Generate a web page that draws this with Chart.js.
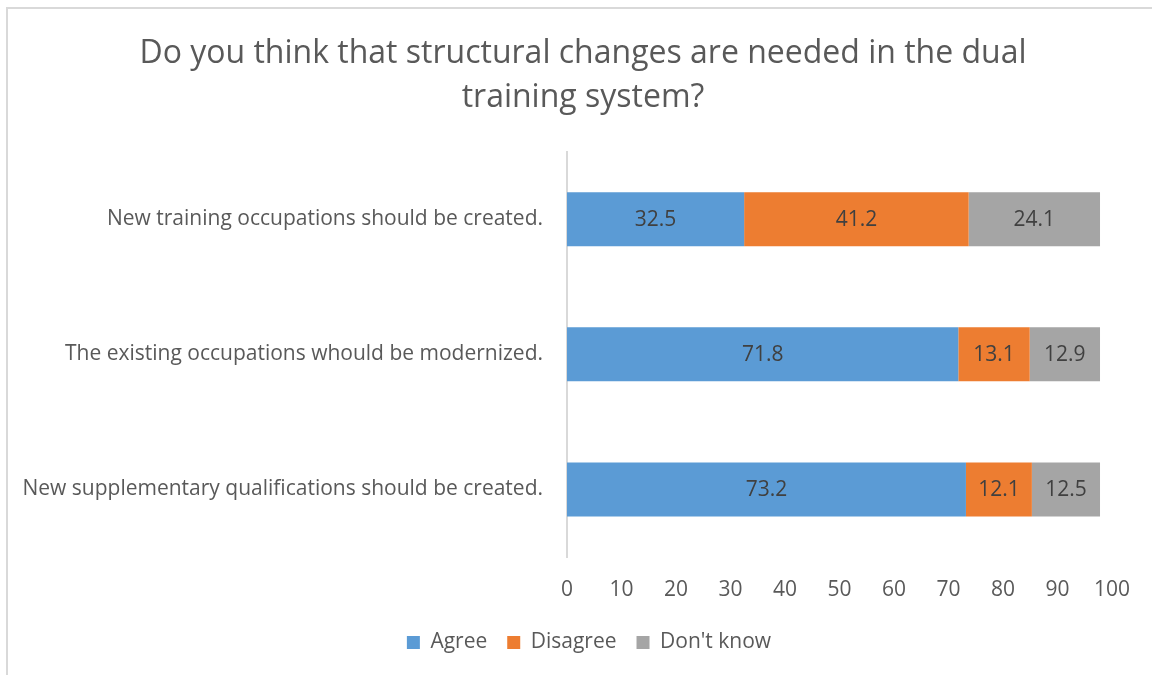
<!DOCTYPE html>
<html>
<head>
<meta charset="utf-8">
<script src="https://cdn.jsdelivr.net/npm/chart.js@4.4.1/dist/chart.umd.min.js"></script>
<style>
  html, body { margin: 0; padding: 0; background: #fff; }
  #wrap { position: relative; width: 1152px; height: 675px; overflow: hidden; }
  #frame { position: absolute; left: 6px; top: 7px; width: 1200px; height: 720px; border-left: 2px solid #d9d9d9; border-top: 2px solid #d9d9d9; }
  canvas { position: absolute; left: 0; top: 0; }
</style>
</head>
<body>
<div id="wrap">
  <div id="frame"></div>
  <canvas id="c" width="1152" height="675"></canvas>
</div>
<script>
const categories = [
  "New training occupations should be created.",
  "The existing occupations whould be modernized.",
  "New supplementary qualifications should be created."
];
const agree = [32.5, 71.8, 73.2];
const disagree = [41.2, 13.1, 12.1];
const dontKnow = [24.1, 12.9, 12.5];
const seriesNames = ["Agree", "Disagree", "Don't know"];
const titleLines = ["Do you think that structural changes are needed in the dual", "training system?"];

const FONT = "'Open Sans', 'Noto Sans', sans-serif";

const valueLabels = {
  id: 'valueLabels',
  afterDatasetsDraw(chart) {
    const ctx = chart.ctx;
    ctx.save();
    ctx.font = "21px " + FONT;
    ctx.fillStyle = '#404040';
    ctx.textAlign = 'center';
    ctx.textBaseline = 'middle';
    chart.data.datasets.forEach((ds, i) => {
      const meta = chart.getDatasetMeta(i);
      meta.data.forEach((bar, j) => {
        const p = bar.getProps(['x', 'y', 'base'], true);
        ctx.fillText(ds.data[j].toFixed(1), (p.x + p.base) / 2, p.y + 1);
      });
    });
    ctx.restore();
  }
};

// shift title and legend centres to the right, as in the original
const shiftBlocks = {
  id: 'shiftBlocks',
  afterLayout(chart) {
    if (chart.titleBlock) { chart.titleBlock.left = 54; chart.titleBlock.width = chart.titleBlock.right - 54; }
    if (chart.legend) { chart.legend.left = 66; chart.legend.width = chart.legend.right - 66; }
  }
};

new Chart(document.getElementById('c'), {
  type: 'bar',
  data: {
    labels: categories,
    datasets: [
      { label: seriesNames[0], data: agree, backgroundColor: '#5B9BD5' },
      { label: seriesNames[1], data: disagree, backgroundColor: '#ED7D31' },
      { label: seriesNames[2], data: dontKnow, backgroundColor: '#A5A5A5' }
    ]
  },
  options: {
    indexAxis: 'y',
    responsive: false,
    animation: false,
    devicePixelRatio: 1,
    categoryPercentage: 1,
    barPercentage: 0.4,
    layout: { padding: { left: 0, right: 40, top: 0, bottom: 12 } },
    scales: {
      x: {
        stacked: true,
        min: 0, max: 100,
        ticks: { stepSize: 10, color: '#595959', font: { family: FONT, size: 21 }, padding: 20 },
        grid: { display: false, drawTicks: false },
        border: { display: false },
        afterFit(scale) { scale.height = 55; }
      },
      y: {
        stacked: true,
        ticks: { color: '#595959', font: { family: FONT, size: 21 }, padding: 24 },
        grid: { display: false, drawTicks: false },
        border: { display: true, color: '#d9d9d9', width: 2 },
        afterFit(scale) { scale.width = 567; }
      }
    },
    plugins: {
      title: {
        display: true,
        text: titleLines,
        color: '#595959',
        font: { family: FONT, size: 32, weight: 'normal', lineHeight: 1.4 },
        padding: { top: 31, bottom: 31 }
      },
      legend: {
        position: 'bottom',
        labels: {
          color: '#595959',
          font: { family: FONT, size: 21 },
          boxWidth: 13, boxHeight: 13,
          padding: 20
        }
      },
      tooltip: { enabled: false }
    }
  },
  plugins: [valueLabels, shiftBlocks]
});
</script>
</body>
</html>
